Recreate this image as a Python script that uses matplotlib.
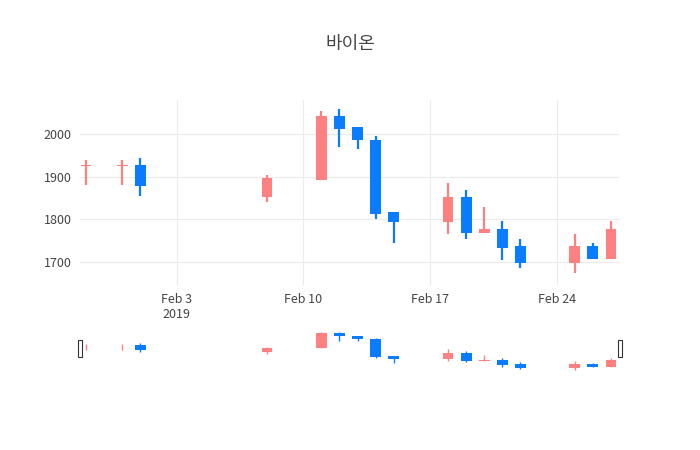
import matplotlib
matplotlib.use("Agg")
import matplotlib.pyplot as plt
import matplotlib.dates as mdates
import pandas as pd
import numpy as np

plt.rcParams['font.family'] = ['Noto Sans CJK KR', 'Open Sans', 'DejaVu Sans']

dates = ["2019-01-29","2019-01-31","2019-02-01","2019-02-08","2019-02-11","2019-02-12","2019-02-13",
         "2019-02-14","2019-02-15","2019-02-18","2019-02-19","2019-02-20","2019-02-21","2019-02-22",
         "2019-02-25","2019-02-26","2019-02-27"]
opens  = [1925,1925,1927,1853,1893,2042,2017,1987,1817,1793,1852,1768,1777,1737,1698,1737,1708]
closes = [1927,1927,1878,1897,2042,2012,1985,1813,1793,1852,1768,1777,1733,1698,1737,1708,1777]
highs  = [1940,1940,1943,1905,2055,2060,2017,1995,1817,1885,1868,1830,1795,1755,1765,1745,1795]
lows   = [1880,1880,1855,1840,1893,1970,1965,1800,1745,1765,1755,1768,1705,1685,1675,1708,1708]

UP = "#FF8080"
DOWN = "#0A7CFF"
x = mdates.date2num(pd.to_datetime(dates))

fig = plt.figure(figsize=(7, 4.5), dpi=100)
ax = fig.add_axes([80/700, 1-285/450, 540/700, 185/450])
axs = fig.add_axes([80/700, 1-372/450, 540/700, 42/450])

def draw(a, lw_w, bw):
    for xi, o, c, h, l in zip(x, opens, closes, highs, lows):
        col = UP if c >= o else DOWN
        a.vlines(xi, l, h, color=col, lw=lw_w, zorder=3)
        bot, top = min(o, c), max(o, c)
        a.bar(xi, max(top - bot, 1.5), bottom=bot, width=bw, color=col, zorder=3, linewidth=0)

draw(ax, 1.6, 0.6)
draw(axs, 1.0, 0.6)

xmin = mdates.date2num(pd.Timestamp("2019-01-28 16:00"))
xmax = mdates.date2num(pd.Timestamp("2019-02-27 12:00"))
for a in (ax, axs):
    a.set_xlim(xmin, xmax)
    for s in a.spines.values():
        s.set_visible(False)

ax.set_ylim(1646, 2080)
ax.set_yticks([1700, 1800, 1900, 2000])
ax.grid(True, color="#ebebeb", lw=0.8)
ax.set_axisbelow(True)
ticks = pd.to_datetime(["2019-02-03", "2019-02-10", "2019-02-17", "2019-02-24"])
ax.set_xticks(mdates.date2num(ticks))
ax.set_xticklabels(["Feb 3\n2019", "Feb 10", "Feb 17", "Feb 24"])
ax.tick_params(length=0, labelsize=9, colors="#444444", pad=6)

axs.set_ylim(1660, 2075)
axs.set_xticks([]); axs.set_yticks([])
for xe in (xmin, xmax):
    axs.add_patch(plt.Rectangle((xe - 0.12, 1810), 0.24, 170, facecolor="white",
                                edgecolor="#333333", lw=0.8, zorder=5, clip_on=False))

fig.text(350/700, 1-44/450, "바이온", ha="center", va="center", fontsize=13, color="#444444")
fig.savefig("out.png", dpi=100)
